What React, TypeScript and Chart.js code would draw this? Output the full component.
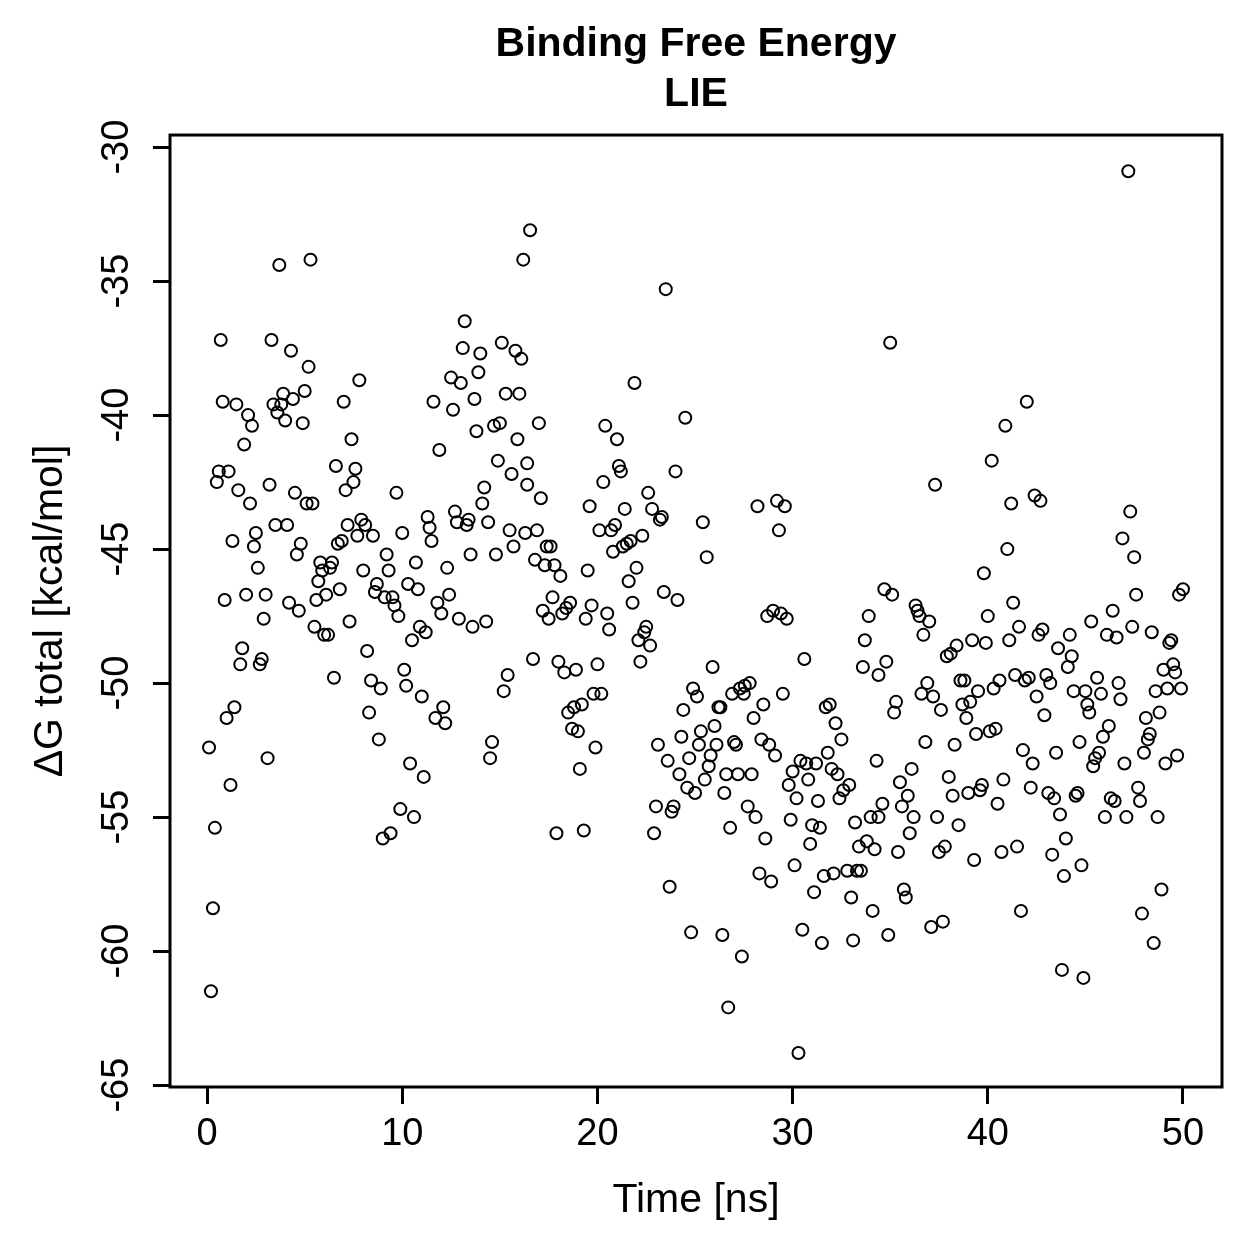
import { useEffect, useRef } from 'react';
import { Chart, registerables } from 'chart.js';

Chart.register(...registerables);

// Simulation time of each sampled frame (ns)
const timeNs = [
  3.7, 5.3, 16.55, 16.2, 0.7, 3.3, 4.3, 5.2, 7.8, 0.8,
  1.5, 2.1, 2.3, 1.9, 3.9, 3.4, 3.8, 4.4, 5.0, 3.6,
  4.0, 4.9, 7.0, 7.4, 13.2, 13.1, 14.0, 15.1, 15.8, 16.1,
  12.5, 13.0, 13.9, 11.6, 12.6, 13.7, 15.3, 16.0, 14.7, 15.0,
  13.8, 15.9, 11.9, 17.0, 23.5, 21.9, 20.4, 21.0, 24.5, 47.2,
  35.0, 42.0, 40.9, 40.2, 14.9, 16.4, 0.6, 1.1, 0.5, 1.6,
  3.2, 4.5, 5.1, 5.4, 2.2, 6.6, 7.6, 7.5, 7.1, 9.7,
  14.2, 14.1, 15.6, 16.4, 3.5, 4.1, 2.5, 1.3, 2.4, 4.8,
  4.6, 2.6, 7.9, 7.2, 8.1, 7.7, 8.5, 6.9, 6.7, 10.0,
  11.3, 11.4, 11.5, 12.7, 12.8, 13.4, 13.3, 14.4, 15.5, 16.3,
  15.7, 14.8, 13.5, 5.8, 6.4, 5.9, 6.3, 5.7, 9.2,
  9.3, 8.0, 10.7, 12.3, 0.9, 2.0, 3.0, 4.2, 4.7, 5.6,
  6.1, 6.8, 2.9, 8.7, 8.6, 9.1, 9.5, 9.6, 9.8, 10.3,
  10.8, 11.8, 12.4, 12.0, 12.9, 13.6, 14.3, 5.5, 6.0, 6.2,
  7.3, 10.9, 11.2, 10.5, 1.8, 1.7, 2.8, 2.7, 8.2, 6.5,
  8.4, 8.9, 10.1, 10.2, 11.0, 15.4, 15.2, 1.4, 1.0,
  12.1, 11.7, 12.2, 8.3, 0.1, 3.1, 8.8, 14.6, 14.5, 10.4,
  11.1, 1.2, 0.4, 9.9, 10.6, 9.4, 9.0, 0.3, 0.2, 17.1,
  20.3, 21.1, 21.2, 24.0, 19.6, 21.4, 22.6, 22.8, 23.2, 23.3,
  25.4, 25.6, 28.2, 29.2, 29.6, 29.3, 16.9, 20.1, 20.7, 20.9,
  17.4, 17.6, 20.8, 21.3, 21.5, 21.7, 22.3, 16.8, 17.3, 17.8,
  18.1, 19.5, 22.0, 21.6, 23.4, 24.1, 17.7, 17.2, 17.5, 18.2,
  18.4, 18.6, 19.7, 19.4, 20.5, 20.6, 21.8, 22.5, 22.4, 22.1,
  22.7, 22.2, 16.7, 18.0, 18.3, 18.9, 20.0, 25.9, 28.7, 29.0,
  29.4, 29.7, 30.6, 33.9, 33.7, 33.6, 34.4, 19.8, 20.2,
  18.5, 18.8, 19.2, 18.7, 19.0, 19.9, 19.1, 24.9, 25.1, 24.4,
  26.9, 27.3, 27.5, 27.55, 27.8, 26.2, 26.3, 28.5, 29.5, 28.0,
  26.0, 25.3, 24.3, 25.2, 26.1, 27.0, 27.1, 25.8, 24.7, 23.6,
  23.1, 28.4, 28.8, 29.1, 31.7, 31.9, 32.2, 32.5, 31.8, 30.4,
  30.7, 31.2, 34.3, 37.3, 41.2, 42.4, 42.7, 47.3, 46.9, 47.5,
  41.0, 39.8, 34.7, 35.1, 36.3, 36.4, 36.5, 37.0, 36.7, 41.3,
  40.0, 41.6, 41.1, 42.6, 42.8, 44.2, 43.6, 44.3, 44.1, 45.3,
  46.4, 47.6, 46.1, 46.6, 47.4, 48.4, 49.3, 49.4, 49.8, 50.0,
  37.9, 38.1, 38.4, 39.2, 39.9, 34.8, 36.9, 36.6, 37.2, 35.3,
  35.2, 37.6, 38.6, 38.8, 39.5, 38.7, 39.1, 38.9, 40.3, 40.6,
  41.4, 41.9, 42.1, 43.0, 43.2, 42.5, 42.9, 44.4, 45.0, 45.6,
  45.8, 46.7, 46.8, 45.1, 45.2, 49.0, 49.5, 49.6, 48.6, 49.2,
  49.9, 48.8, 48.1, 46.2, 45.9, 44.7, 43.5, 41.8, 42.3, 39.4,
  40.1, 40.4, 36.8, 38.3, 36.1, 48.3, 48.2, 48.0, 49.7, 49.1,
  47.0, 45.7, 45.5, 45.4, 25.7, 24.2, 25.5, 24.6, 25.0, 26.6,
  27.2, 27.9, 26.5, 30.0, 29.8, 30.8, 32.0, 32.3, 32.9, 32.6,
  32.4, 23.0, 23.9, 23.8, 27.7, 28.1, 30.2, 31.3, 22.9, 26.8,
  28.6, 29.9, 31.0, 31.4, 30.9, 33.2, 34.0, 34.4, 33.8, 33.4,
  34.2, 30.1, 28.3, 28.9, 31.6, 32.1, 32.8, 33.3, 33.5, 31.1,
  33.0, 34.1, 17.9, 19.3, 23.7, 24.8, 26.4, 27.4, 30.5, 31.5,
  33.1, 26.7, 30.3, 35.5, 38.0, 35.9, 34.6, 35.6, 36.2, 37.4,
  38.5, 38.2, 39.0, 39.7, 39.6, 40.8, 40.5, 42.2, 43.1, 43.4,
  44.5, 44.6, 43.7, 46.3, 46.5, 47.7, 47.8, 46.0, 47.1, 48.7,
  35.4, 36.0, 37.5, 37.8, 39.3, 40.7, 41.5, 43.3, 44.0, 44.8,
  43.9, 48.9, 35.7, 35.8, 41.7, 47.9, 34.9, 37.1, 37.7, 48.5,
  43.8, 44.9,
];

// LIE binding free energy of each frame (kcal/mol)
const deltaG = [
  -34.4, -34.2, -33.1, -34.2, -37.2, -37.2, -37.6, -38.2, -38.7, -39.5,
  -39.6, -40.0, -40.4, -41.1, -39.2, -39.6, -39.6, -39.4, -39.1, -39.9,
  -40.2, -40.3, -39.5, -40.9, -36.5, -37.5, -37.7, -37.3, -37.6, -37.9,
  -38.6, -38.8, -38.4, -39.5, -39.8, -39.4, -39.2, -39.2, -40.4, -40.3,
  -40.6, -40.9, -41.3, -40.3, -35.3, -38.8, -40.4, -40.9, -40.1, -30.9,
  -37.3, -39.5, -40.4, -41.7, -41.7, -41.8, -42.1, -42.1, -42.5, -42.8,
  -42.6, -42.9, -43.3, -43.3, -43.3, -41.9, -42.0, -42.5, -42.8, -42.9,
  -42.7, -43.3, -42.2, -42.6, -44.1, -44.1, -44.4, -44.7, -44.9, -44.8,
  -45.2, -45.7, -43.9, -44.1, -44.1, -44.5, -44.5, -44.7, -44.8, -44.4,
  -43.8, -44.2, -44.7, -43.6, -44.0, -43.9, -44.1, -44.0, -44.3, -44.4,
  -44.9, -45.2, -45.2, -45.5, -45.5, -45.8, -45.7, -46.2, -45.2,
  -45.8, -45.8, -45.5, -45.7, -46.9, -46.7, -46.7, -47.0, -47.3, -46.9,
  -46.7, -46.5, -47.6, -46.3, -46.6, -46.8, -46.8, -47.1, -47.5, -46.3,
  -46.5, -47.0, -46.7, -47.4, -47.6, -47.9, -47.7, -47.9, -48.2, -48.2,
  -47.7, -47.9, -48.1, -48.4, -48.7, -49.3, -49.1, -49.3, -48.8, -49.8,
  -49.9, -50.2, -49.5, -50.1, -50.5, -49.7, -50.3, -50.9, -51.3,
  -50.9, -51.3, -51.5, -51.1, -52.4, -52.8, -52.1, -52.2, -52.8, -53.0,
  -53.5, -53.8, -55.4, -54.7, -55.0, -55.6, -55.8, -58.4, -61.5, -43.1,
  -42.5, -41.9, -42.1, -42.1, -43.4, -43.5, -42.9, -43.5, -43.9, -43.8,
  -44.0, -45.3, -43.4, -43.2, -43.4, -44.3, -44.3, -44.3, -44.3, -44.1,
  -44.9, -44.9, -45.1, -44.9, -44.8, -44.7, -44.5, -45.4, -45.6, -45.6,
  -46.0, -45.8, -45.7, -46.2, -46.6, -46.9, -46.8, -47.3, -47.6, -47.4,
  -47.2, -47.0, -47.1, -47.6, -47.4, -48.0, -47.0, -47.9, -48.1, -48.4,
  -48.6, -49.2, -49.1, -49.2, -49.6, -49.5, -49.3, -49.4, -47.5, -47.3,
  -47.4, -47.6, -49.1, -47.5, -48.4, -49.4, -49.7, -50.4, -50.4,
  -51.1, -50.9, -50.8, -51.7, -51.8, -52.4, -53.2, -50.2, -50.5, -51.0,
  -50.4, -50.2, -50.4, -50.1, -50.0, -50.9, -50.9, -50.8, -50.4, -51.3,
  -51.6, -51.8, -52.0, -52.3, -52.3, -52.2, -52.3, -52.7, -52.8, -52.9,
  -52.3, -52.1, -52.3, -52.7, -50.9, -50.8, -51.5, -52.1, -52.6, -52.9,
  -53.0, -53.0, -52.9, -42.6, -43.3, -43.0, -43.2, -43.6, -44.6, -45.3,
  -45.0, -45.9, -46.5, -46.7, -47.1, -47.3, -47.5, -47.7, -48.2, -47.0,
  -47.5, -47.9, -48.4, -48.2, -48.0, -48.2, -48.7, -49.0, -49.4, -47.7,
  -47.3, -46.7, -48.2, -48.3, -47.9, -48.1, -48.5, -48.4, -46.7, -46.5,
  -49.0, -48.9, -48.6, -48.4, -48.5, -49.2, -50.0, -50.4, -50.5, -50.7,
  -51.1, -51.0, -49.9, -49.9, -50.3, -50.8, -50.7, -51.3, -50.2, -49.9,
  -49.7, -49.9, -49.8, -49.7, -50.0, -50.5, -51.2, -50.3, -50.3, -49.8,
  -50.4, -50.0, -50.6, -50.8, -51.1, -49.5, -49.3, -49.6, -50.3, -50.2,
  -50.2, -51.1, -51.3, -51.6, -52.0, -52.2, -52.6, -52.5, -53.0, -51.9,
  -51.8, -51.7, -52.2, -52.3, -53.2, -51.9, -52.1, -52.6, -52.7, -53.0,
  -53.0, -52.6, -52.8, -53.1, -53.1, -53.4, -53.6, -53.9, -54.1, -53.4,
  -53.4, -53.4, -54.1, -53.3, -53.8, -53.6, -53.2, -53.4, -53.8, -54.0,
  -54.3, -54.6, -54.6, -54.8, -54.6, -55.0, -54.3, -54.4, -55.6, -55.4,
  -55.8, -55.1, -55.3, -55.4, -56.0, -55.2, -55.0, -55.0, -55.9, -56.1,
  -56.2, -56.8, -57.1, -57.4, -57.2, -57.1, -57.0, -57.0, -57.0, -57.8,
  -58.0, -58.5, -55.6, -55.5, -57.6, -59.3, -59.4, -60.2, -59.2, -59.7,
  -59.6, -62.1, -63.8, -53.7, -53.5, -54.2, -54.5, -54.6, -55.0, -55.0,
  -55.3, -54.2, -54.1, -53.8, -54.0, -53.6, -54.5, -53.9, -54.1, -54.3,
  -54.2, -54.1, -54.9, -54.3, -54.4, -53.9, -54.4, -55.0, -55.0, -55.0,
  -56.3, -55.6, -56.3, -56.1, -56.6, -56.3, -56.1, -56.4, -55.8, -56.8,
  -57.2, -57.7, -57.7, -58.0, -58.5, -58.6, -59.4, -59.1, -58.9, -59.7,
  -60.7, -61.0,
];

const xTickValues = [0, 10, 20, 30, 40, 50];
const yTickValues = [-30, -35, -40, -45, -50, -55, -60, -65];

const chartTitle = ['Binding Free Energy', 'LIE'];
const xAxisTitle = 'Time [ns]';
const yAxisTitle = 'ΔG total [kcal/mol]';

const FONT = "'Liberation Sans', Arial, Helvetica, sans-serif";

// Closed box around the plotting region
const framePlugin = {
  id: 'plotFrame',
  afterDraw(chart: any) {
    const { ctx, chartArea } = chart;
    ctx.save();
    ctx.strokeStyle = '#000';
    ctx.lineWidth = 3;
    ctx.strokeRect(
      chartArea.left,
      chartArea.top,
      chartArea.right - chartArea.left,
      chartArea.bottom - chartArea.top
    );
    ctx.restore();
  },
};

export default function App() {
  const canvasRef = useRef<HTMLCanvasElement | null>(null);

  useEffect(() => {
    const canvas = canvasRef.current;
    if (!canvas) return;

    const points = timeNs.map((t, i) => ({ x: t, y: deltaG[i] }));

    const chart = new Chart(canvas, {
      type: 'scatter',
      data: {
        datasets: [
          {
            label: 'ΔG total',
            data: points,
            pointStyle: 'circle',
            pointRadius: 6,
            pointHoverRadius: 6,
            pointBorderWidth: 2,
            pointBorderColor: '#000',
            pointBackgroundColor: 'rgba(0,0,0,0)',
          },
        ],
      },
      options: {
        animation: false,
        responsive: false,
        devicePixelRatio: 1,
        events: [],
        layout: {
          autoPadding: false,
          padding: { top: 20, left: 0, right: 37, bottom: 0 },
        },
        plugins: {
          legend: { display: false },
          tooltip: { enabled: false },
          title: {
            display: true,
            fullSize: false,
            text: chartTitle,
            color: '#000',
            font: { family: FONT, size: 41, weight: 'bold', lineHeight: 1.22 },
            padding: { top: 0, bottom: 15 },
          },
        },
        scales: {
          x: {
            type: 'linear',
            min: -1.9,
            max: 52.0,
            afterBuildTicks: (scale: any) => {
              scale.ticks = xTickValues.map((value) => ({ value }));
            },
            afterFit: (scale: any) => {
              scale.height = 172;
              scale.paddingLeft = 0;
              scale.paddingRight = 0;
            },
            border: { display: false },
            grid: {
              display: true,
              drawOnChartArea: false,
              drawTicks: true,
              tickLength: 17,
              tickWidth: 3,
              tickColor: '#000',
            },
            ticks: {
              autoSkip: false,
              maxRotation: 0,
              minRotation: 0,
              padding: 8,
              color: '#000',
              font: { family: FONT, size: 38, lineHeight: 1.2 },
              callback: (v: any) => String(v),
            },
            title: {
              display: true,
              text: xAxisTitle,
              color: '#000',
              font: { family: FONT, size: 41, lineHeight: 1.2 },
              padding: { top: 0, bottom: 34 },
            },
          },
          y: {
            type: 'linear',
            min: -65.07,
            max: -29.55,
            afterBuildTicks: (scale: any) => {
              scale.ticks = yTickValues.map((value) => ({ value }));
            },
            afterFit: (scale: any) => {
              scale.width = 170;
              scale.paddingTop = 0;
              scale.paddingBottom = 0;
            },
            border: { display: false },
            grid: {
              display: true,
              drawOnChartArea: false,
              drawTicks: true,
              tickLength: 17,
              tickWidth: 3,
              tickColor: '#000',
            },
            ticks: {
              autoSkip: false,
              minRotation: 90,
              maxRotation: 90,
              crossAlign: 'center',
              padding: 8,
              color: '#000',
              font: { family: FONT, size: 38, lineHeight: 1.2 },
              callback: (v: any) => String(v),
            },
            title: {
              display: true,
              text: yAxisTitle,
              color: '#000',
              font: { family: FONT, size: 41, lineHeight: 1.2 },
              padding: { top: 26, bottom: 0 },
            },
          },
        },
      },
      plugins: [framePlugin],
    } as any);

    return () => {
      chart.destroy();
    };
  }, []);

  return (
    <div
      style={{
        position: 'fixed',
        left: 0,
        top: 0,
        width: 1259,
        height: 1259,
        background: '#fff',
      }}
    >
      <canvas
        ref={canvasRef}
        width={1259}
        height={1259}
        style={{ display: 'block', width: 1259, height: 1259 }}
      />
    </div>
  );
}
